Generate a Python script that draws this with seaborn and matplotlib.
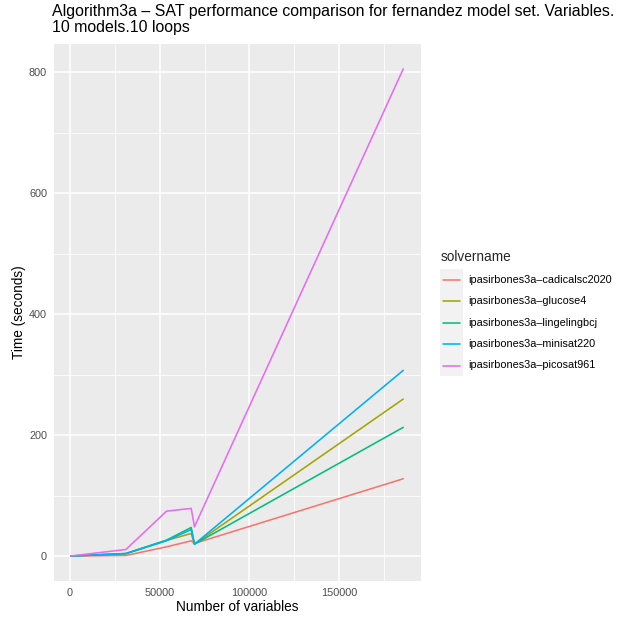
import matplotlib
matplotlib.use("Agg")
import matplotlib.pyplot as plt
from matplotlib.patches import Rectangle
from matplotlib.ticker import FixedLocator, MultipleLocator
import seaborn as sns
import pandas as pd

# Number of variables per test point
variables = [600, 31300, 53900, 67600, 69400, 185500]

# Solve time (seconds) per solver
solvers = [
    "ipasirbones3a\u2013cadicalsc2020",
    "ipasirbones3a\u2013glucose4",
    "ipasirbones3a\u2013lingelingbcj",
    "ipasirbones3a\u2013minisat220",
    "ipasirbones3a\u2013picosat961",
]
cadical = [0.2, 1.1, 15.4, 25.3, 21.0, 127.9]
glucose = [0.2, 4.0, 26.0, 37.5, 19.8, 259.7]
lingeling = [0.2, 4.4, 26.5, 47.4, 19.8, 212.9]
minisat = [0.2, 4.2, 25.5, 44.0, 19.8, 307.1]
picosat = [0.2, 11.0, 74.4, 78.9, 48.5, 805.5]

x_ticks = [0, 50000, 100000, 150000]
x_tick_labels = ["0", "50000", "100000", "150000"]
y_ticks = [0, 200, 400, 600, 800]

palette = ["#F8766D", "#A3A500", "#00BF7D", "#00B0F6", "#E76BF3"]

frames = []
for name, times in zip(solvers, [cadical, glucose, lingeling, minisat, picosat]):
    frames.append(pd.DataFrame({"variables": variables, "time": times, "solvername": name}))
df = pd.concat(frames, ignore_index=True)

sns.set_theme(style="darkgrid")
plt.rcParams["font.family"] = ["Liberation Sans", "DejaVu Sans"]

W, H = 620, 618
fig = plt.figure(figsize=(W / 100, H / 100), dpi=100)
ax = fig.add_axes([54 / W, 1 - 580.7 / H, (420.7 - 54) / W, (580.7 - 44) / H])
ax.set_facecolor("#EBEBEB")

sns.lineplot(data=df, x="variables", y="time", hue="solvername", palette=palette,
             hue_order=solvers, ax=ax, linewidth=1.15, legend=False)

ax.set_xlim(-8700, 195200)
ax.set_ylim(-40.6, 846.6)
ax.xaxis.set_major_locator(FixedLocator(x_ticks))
ax.xaxis.set_minor_locator(MultipleLocator(25000))
ax.yaxis.set_major_locator(FixedLocator(y_ticks))
ax.yaxis.set_minor_locator(MultipleLocator(100))
ax.set_xticklabels(x_tick_labels)
ax.grid(which="major", color="white", linewidth=1.1)
ax.grid(which="minor", color="white", linewidth=0.55)
for s in ax.spines.values():
    s.set_visible(False)
ax.tick_params(axis="both", which="major", length=3, width=0.8, color="#333333",
               labelsize=7.8, labelcolor="#4D4D4D", pad=2)
ax.tick_params(axis="both", which="minor", length=0)

ax.set_xlabel("Number of variables", fontsize=9.8, color="black", labelpad=2)
ax.set_ylabel("Time (seconds)", fontsize=9.8, color="black", labelpad=2)

fig.text(52 / W, 1 - 4 / H,
         "Algorithm3a \u2013 SAT performance comparison for fernandez model set. Variables.\n10 models.10 loops",
         ha="left", va="top", fontsize=11.4, color="black", linespacing=1.12)

# Legend
fig.text(440.7 / W, 1 - 256.7 / H, "solvername", ha="left", va="center", fontsize=9.8)
fig.patches.append(Rectangle((440 / W, 1 - 376 / H), 22.5 / W, 107 / H,
                             transform=fig.transFigure, facecolor="#F2F2F2",
                             edgecolor="none", zorder=0))
ys = [280, 301.3, 322.7, 344.0, 365.5]
for name, col, y in zip(solvers, palette, ys):
    fig.add_artist(plt.Line2D([442.7 / W, 460 / W], [1 - y / H, 1 - y / H],
                              color=col, linewidth=1.15, transform=fig.transFigure))
    fig.text(468.3 / W, 1 - y / H, name, ha="left", va="center", fontsize=7.8, color="black")

fig.savefig("out.png", dpi=100)
